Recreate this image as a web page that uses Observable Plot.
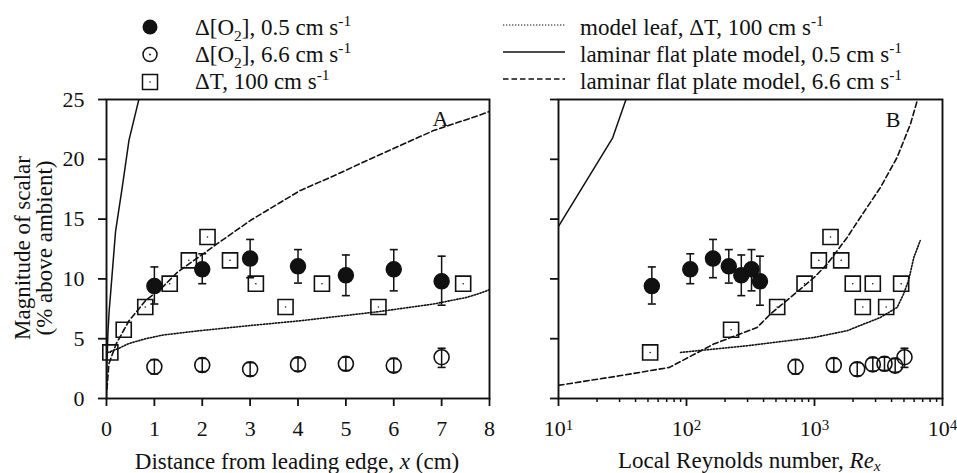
<!DOCTYPE html>
<html><head><meta charset="utf-8">
<script src="https://cdn.jsdelivr.net/npm/d3@7"></script>
<script src="https://cdn.jsdelivr.net/npm/@observablehq/plot@0.6"></script>
<style>
body{margin:0;background:#fff;}
#wrap{position:relative;width:957px;height:473px;overflow:hidden;background:#fff;}
#wrap svg{position:absolute;top:0;}
</style></head><body><div id="wrap"></div>
<script>
// ---------- data ----------
const yTicks = [0, 5, 10, 15, 20, 25];
const xTicksA = [0, 1, 2, 3, 4, 5, 6, 7, 8];
const reMajor = [10, 100, 1000, 10000];
const reMajorExp = ["1", "2", "3", "4"];
const reMinor = [20, 30, 40, 50, 60, 70, 80, 90, 200, 300, 400, 500, 600, 700, 800, 900, 2000, 3000, 4000, 5000, 6000, 7000, 8000, 9000];

// Δ[O2], 0.5 cm/s (filled circles)
const o2SlowX = [1, 2, 3, 4, 5, 6, 7];
const o2SlowRe = [53.6, 107, 161, 214, 268, 322, 375];
const o2SlowMean = [9.4, 10.8, 11.7, 11.05, 10.3, 10.8, 9.8];
const o2SlowHi = [11.0, 12.1, 13.3, 12.45, 12.0, 12.45, 11.9];
const o2SlowLo = [7.9, 9.6, 10.1, 9.65, 8.6, 9.0, 7.8];

// Δ[O2], 6.6 cm/s (open circles)
const o2FastX = [1, 2, 3, 4, 5, 6, 7];
const o2FastRe = [711, 1415, 2156, 2854, 3522, 4270, 5047];
const o2FastMean = [2.65, 2.8, 2.45, 2.85, 2.9, 2.75, 3.45];
const o2FastHi = [3.25, 3.35, 3.0, 3.4, 3.45, 3.35, 4.2];
const o2FastLo = [2.05, 2.25, 1.9, 2.3, 2.35, 2.2, 2.6];

// ΔT, 100 cm/s (squares)
const dtX = [0.08, 0.36, 0.81, 1.32, 1.72, 2.11, 2.58, 3.12, 3.74, 4.5, 5.68, 7.45];
const dtRe = [52, 223, 511, 836, 1081, 1334, 1616, 1991, 2384, 2854, 3631, 4753];
const dtVal = [3.85, 5.75, 7.65, 9.6, 11.55, 13.5, 11.55, 9.6, 7.65, 9.6, 7.65, 9.6];

// model leaf, ΔT, 100 cm/s (dotted)
const leafX = [0.03, 0.26, 0.47, 0.82, 1.17, 1.9, 3.0, 4.05, 5.68, 6.83, 7.52, 7.8, 8.0];
const leafY = [3.85, 4.2, 4.6, 5.0, 5.3, 5.65, 6.1, 6.5, 7.26, 7.9, 8.45, 8.8, 9.1];
const leafRe = [89.8, 298, 989, 1799, 3281, 4426, 4966, 5430, 5970, 6700];
const leafReY = [3.85, 4.41, 5.1, 5.67, 6.78, 7.62, 8.74, 9.86, 11.8, 13.2];

// laminar flat plate model, 0.5 cm/s (solid)
const plate05X = [0, 0.01, 0.03, 0.055, 0.09, 0.19, 0.33, 0.47, 0.67, 0.9];
const plate05Y = [0, 3.0, 5.5, 7.3, 9.0, 14.0, 17.7, 21.6, 24.9, 28.5];
const plate05Re = [10, 26.5, 40];
const plate05ReY = [14.4, 21.8, 27.3];

// laminar flat plate model, 6.6 cm/s (dashed)
const plate66X = [0.01, 0.05, 0.2, 0.47, 0.82, 1.17, 1.48, 2.3, 3.01, 4.05, 4.74, 5.44, 6.83, 7.8, 8.0];
const plate66Y = [0.8, 2.9, 4.55, 6.5, 8.2, 9.3, 10.55, 12.9, 14.9, 17.4, 18.6, 19.9, 22.4, 23.7, 24.0];
const plate66Re = [10, 30, 73.6, 163, 356, 453, 542, 777, 989, 1259, 1799, 2384, 3281, 4426, 5623, 6345, 7200];
const plate66ReY = [1.1, 1.9, 2.6, 4.55, 5.94, 7.06, 7.76, 9.15, 10.1, 11.25, 13.47, 15.45, 17.66, 20.17, 22.96, 24.9, 27.3];

// ---------- helpers ----------
const FONT = '"Liberation Serif", "Times New Roman", Times, serif';
const INK = "#111";
const pts = (xs, ys) => xs.map((x, i) => ({x, y: ys[i]}));
const errPts = (xs, m, lo, hi) => xs.map((x, i) => ({x, y: m[i], lo: lo[i], hi: hi[i]}));
const capSymbol = {draw(ctx, size) { const r = Math.sqrt(size / Math.PI); ctx.moveTo(-r, 0); ctx.lineTo(r, 0); }};

function dataMarks(slow, fast, dt, leaf, p05, p66) {
  return [
    Plot.line(leaf, {x: "x", y: "y", stroke: INK, strokeWidth: 1.6, strokeDasharray: "1.3,1.7", clip: true}),
    Plot.line(p05, {x: "x", y: "y", stroke: INK, strokeWidth: 1.5, clip: true}),
    Plot.line(p66, {x: "x", y: "y", stroke: INK, strokeWidth: 1.6, strokeDasharray: "5.5,3", clip: true}),
    // squares
    Plot.dot(dt, {x: "x", y: "y", symbol: "square", r: 8.5, stroke: INK, strokeWidth: 1.6, fill: "none"}),
    Plot.dot(dt, {x: "x", y: "y", r: 0.8, fill: INK}),
    // open circles with error bars
    Plot.dot(fast, {x: "x", y: "y", r: 7.5, stroke: INK, strokeWidth: 1.6, fill: "none"}),
    Plot.ruleX(fast, {x: "x", y1: "lo", y2: "hi", stroke: INK, strokeWidth: 1.5}),
    Plot.dot(fast, {x: "x", y: "hi", symbol: capSymbol, r: 4, stroke: INK, strokeWidth: 1.6, fill: "none"}),
    Plot.dot(fast, {x: "x", y: "lo", symbol: capSymbol, r: 4, stroke: INK, strokeWidth: 1.6, fill: "none"}),
    // filled circles with error bars
    Plot.ruleX(slow, {x: "x", y1: "lo", y2: "hi", stroke: INK, strokeWidth: 1.5}),
    Plot.dot(slow, {x: "x", y: "hi", symbol: capSymbol, r: 4, stroke: INK, strokeWidth: 1.6, fill: "none"}),
    Plot.dot(slow, {x: "x", y: "lo", symbol: capSymbol, r: 4, stroke: INK, strokeWidth: 1.6, fill: "none"}),
    Plot.dot(slow, {x: "x", y: "y", r: 7.5, fill: INK, stroke: INK})
  ];
}

const baseStyle = {fontFamily: FONT, fontSize: "22px", background: "transparent", color: INK, overflow: "visible"};

// ---------- panel A ----------
const plotA = Plot.plot({
  width: 500, height: 473,
  marginLeft: 106, marginRight: 11, marginTop: 99, marginBottom: 75,
  style: baseStyle,
  x: {domain: [0, 8]},
  y: {domain: [0, 25]},
  marks: [
    ...dataMarks(
      errPts(o2SlowX, o2SlowMean, o2SlowLo, o2SlowHi),
      errPts(o2FastX, o2FastMean, o2FastLo, o2FastHi),
      pts(dtX, dtVal), pts(leafX, leafY), pts(plate05X, plate05Y), pts(plate66X, plate66Y)
    ),
    Plot.frame({stroke: INK, strokeWidth: 1.9}),
    Plot.axisY(yTicks, {tickSize: 8, tickPadding: 14, strokeWidth: 1.8, label: null, fontSize: 22}),
    Plot.axisX(xTicksA, {tickSize: 8, tickPadding: 14, strokeWidth: 1.8, label: null, fontSize: 22}),
    Plot.text(["A"], {frameAnchor: "top-right", dx: -41, dy: 11, lineAnchor: "top", fontSize: 22, fill: INK})
  ]
});
plotA.style.left = "0px";

// ---------- panel B ----------
const plotB = Plot.plot({
  width: 457, height: 473,
  marginLeft: 58, marginRight: 15, marginTop: 99, marginBottom: 75,
  style: baseStyle,
  x: {type: "log", domain: [10, 10000]},
  y: {domain: [0, 25]},
  marks: [
    ...dataMarks(
      errPts(o2SlowRe, o2SlowMean, o2SlowLo, o2SlowHi),
      errPts(o2FastRe, o2FastMean, o2FastLo, o2FastHi),
      pts(dtRe, dtVal), pts(leafRe, leafReY), pts(plate05Re, plate05ReY), pts(plate66Re, plate66ReY)
    ),
    Plot.frame({stroke: INK, strokeWidth: 1.9}),
    Plot.axisY(yTicks, {tickSize: 8, strokeWidth: 1.8, label: null, tickFormat: () => ""}),
    Plot.axisX(reMinor, {tickSize: 4, strokeWidth: 1.5, label: null, tickFormat: () => ""}),
    Plot.axisX(reMajor, {tickSize: 8, tickPadding: 14, strokeWidth: 1.8, label: null, fontSize: 22, tickFormat: () => "10"}),
    Plot.text(["B"], {frameAnchor: "top-right", dx: -42, dy: 12, lineAnchor: "top", fontSize: 22, fill: INK})
  ]
});
plotB.style.left = "500px";

const wrap = document.getElementById("wrap");
wrap.appendChild(plotA);
wrap.appendChild(plotB);

// superscript exponents on the log tick labels
const majorTexts = d3.select(plotB).selectAll('g[aria-label="x-axis tick label"] text').nodes()
  .filter(n => n.textContent === "10");
majorTexts.forEach((n, i) => {
  const t = d3.select(n);
  t.text("10");
  t.append("tspan").attr("dy", "-0.42em").attr("font-size", "15px").text(reMajorExp[i]);
});

// rich text helper
function richText(parent, x, y, parts, anchor, size) {
  const fs = size || 23;
  const t = parent.append("text").attr("x", x).attr("y", y).attr("fill", INK)
    .attr("font-family", FONT).attr("font-size", fs).attr("text-anchor", anchor || "start");
  let shift = 0;
  for (const [s, kind] of parts) {
    const ts = t.append("tspan").text(s);
    let target = 0;
    if (kind === "sub") target = 6;
    if (kind === "isub") target = 3;
    if (kind === "sup") target = -9;
    if (target !== shift) { ts.attr("dy", target - shift); shift = target; }
    if (kind === "sub" || kind === "isub" || kind === "sup") ts.attr("font-size", 15.5);
    if (kind === "i" || kind === "isub") ts.attr("font-style", "italic");
  }
  return t;
}

// axis titles
const sA = d3.select(plotA);
richText(sA, 297, 469, [["Distance from leading edge, ", ""], ["x", "i"], [" (cm)", ""]], "middle");
sA.append("text").attr("transform", "translate(30,248) rotate(-90)").attr("text-anchor", "middle")
  .attr("font-family", FONT).attr("font-size", 23).attr("fill", INK).text("Magnitude of scalar");
sA.append("text").attr("transform", "translate(52,248) rotate(-90)").attr("text-anchor", "middle")
  .attr("font-family", FONT).attr("font-size", 23).attr("fill", INK).text("(% above ambient)");
const sB = d3.select(plotB);
richText(sB, 118, 468, [["Local Reynolds number, ", ""], ["Re", "i"], ["x", "isub"]], "start");

// ---------- legend ----------
const leg = d3.create("svg").attr("width", 957).attr("height", 96)
  .style("left", "0px").style("pointer-events", "none");
const legLeft = [
  {label: [["Δ[O", ""], ["2", "sub"], ["], 0.5 cm s", ""], ["-1", "sup"]], kind: "filled"},
  {label: [["Δ[O", ""], ["2", "sub"], ["], 6.6 cm s", ""], ["-1", "sup"]], kind: "open"},
  {label: [["ΔT, 100 cm s", ""], ["-1", "sup"]], kind: "square"}
];
const legRight = [
  {label: [["model leaf, ΔT, 100 cm s", ""], ["-1", "sup"]], dash: "1.3,1.7"},
  {label: [["laminar flat plate model, 0.5 cm s", ""], ["-1", "sup"]], dash: null},
  {label: [["laminar flat plate model, 6.6 cm s", ""], ["-1", "sup"]], dash: "5.5,3"}
];
const markY = [27, 54.5, 82];
const lineY = [25, 52, 79];
const baseY = [35, 62, 89];
legLeft.forEach((d, i) => {
  if (d.kind === "filled") leg.append("circle").attr("cx", 150).attr("cy", markY[i]).attr("r", 7.5).attr("fill", INK);
  if (d.kind === "open") {
    leg.append("circle").attr("cx", 150).attr("cy", markY[i]).attr("r", 7).attr("fill", "none").attr("stroke", INK).attr("stroke-width", 1.5);
    leg.append("circle").attr("cx", 150).attr("cy", markY[i]).attr("r", 0.9).attr("fill", INK);
  }
  if (d.kind === "square") {
    leg.append("rect").attr("x", 142.5).attr("y", markY[i] - 7.5).attr("width", 15).attr("height", 15).attr("fill", "none").attr("stroke", INK).attr("stroke-width", 1.5);
    leg.append("circle").attr("cx", 150).attr("cy", markY[i]).attr("r", 0.8).attr("fill", INK);
  }
  richText(leg, 195, baseY[i], d.label);
});
legRight.forEach((d, i) => {
  const l = leg.append("line").attr("x1", 503).attr("x2", 565).attr("y1", lineY[i]).attr("y2", lineY[i])
    .attr("stroke", INK).attr("stroke-width", d.dash === "1.3,1.7" ? 1.2 : 1.5);
  if (d.dash) l.attr("stroke-dasharray", d.dash);
  richText(leg, 580, baseY[i], d.label);
});
wrap.appendChild(leg.node());
</script>
</body></html>
